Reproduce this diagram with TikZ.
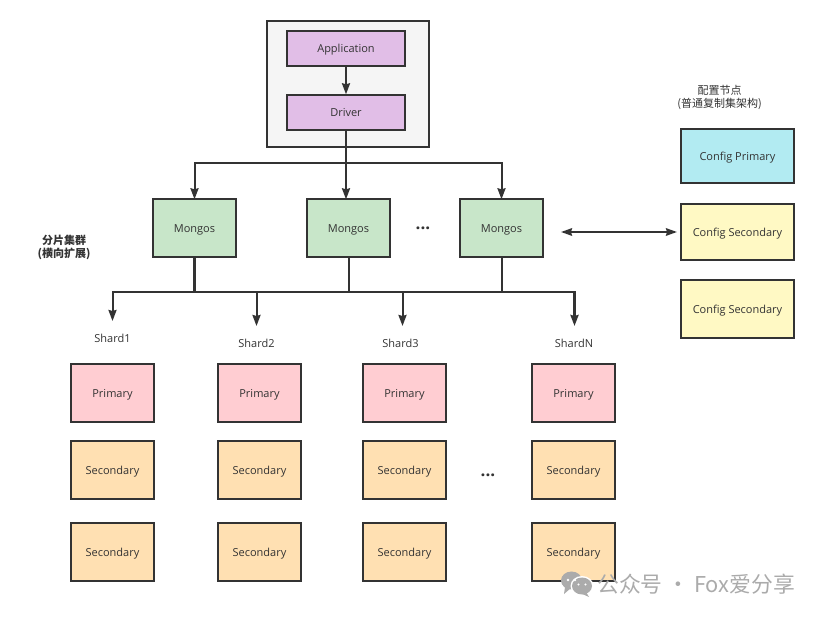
\documentclass[tikz,border=0pt]{standalone}
\usepackage{fontspec}
\setmainfont{Open Sans}
\newfontfamily\cjk{Noto Sans CJK SC}
\usetikzlibrary{arrows.meta}
\definecolor{ink}{HTML}{333333}
\definecolor{purplefill}{HTML}{E1BEE7}
\definecolor{greenfill}{HTML}{C8E6C9}
\definecolor{bluefill}{HTML}{B2EBF2}
\definecolor{yellowfill}{HTML}{FFF9C4}
\definecolor{pinkfill}{HTML}{FFCDD2}
\definecolor{orangefill}{HTML}{FFE0B2}
\definecolor{wm}{HTML}{ABABAB}
\tikzset{
  box/.style={draw=ink,line width=1.4pt,text=ink,font=\fontsize{11}{13}\selectfont,inner sep=0pt,align=center,text height=9.6pt,text depth=0pt},
  appbox/.style={box,fill=purplefill,minimum width=118pt,minimum height=35pt,text height=8.4pt},
  mongosbox/.style={box,fill=greenfill,minimum width=83pt,minimum height=58pt},
  cfgp/.style={box,fill=bluefill,minimum width=113pt,minimum height=54pt},
  cfgs/.style={box,fill=yellowfill,minimum width=113pt},
  prim/.style={box,fill=pinkfill,minimum width=83pt,minimum height=58pt},
  sec/.style={box,fill=orangefill,minimum width=83pt,minimum height=58pt},
  lbl/.style={text=ink,font=\fontsize{11}{13}\selectfont,inner sep=0pt,align=center},
  cjklbl/.style={text=ink,font=\cjk\fontsize{11}{13}\selectfont,inner sep=0pt,align=center},
  dots/.style={text=ink,font=\bfseries\fontsize{17}{17}\selectfont,inner sep=0pt},
  conn/.style={draw=ink,line width=2pt},
  arrow/.style={conn,-{Stealth[length=11pt,width=8pt,inset=1pt]}},
  darrow/.style={conn,{Stealth[length=11pt,width=7.5pt,inset=1pt]}-{Stealth[length=11pt,width=7.5pt,inset=1pt]}},
}
\begin{document}
\begin{tikzpicture}[x=1pt,y=-1pt]
\useasboundingbox (0,0) rectangle (820,617);
\fill[white] (0,0) rectangle (820,617);
% client group
\node[box,fill=black!4,minimum width=162pt,minimum height=126pt] (client) at (348,84) {};
\node[appbox] (app) at (346,48.5) {Application};
\node[appbox] (drv) at (346,112.5) {Driver};
% mongos
\node[mongosbox] (m1) at (194.5,228) {Mongos};
\node[mongosbox] (m2) at (348.5,228) {Mongos};
\node[mongosbox] (m3) at (501.5,228) {Mongos};
\node[dots] (d1) at (423,228) {...};
% config
\node[cjklbl] (cfgt) at (719.5,97.5) {配置节点\\(普通复制集架构)};
\node[cfgp] (c1) at (737.5,156) {Config Primary};
\node[cfgs,minimum height=56pt] (c2) at (737.5,232) {Config Secondary};
\node[cfgs,minimum height=58pt] (c3) at (737.5,309) {Config Secondary};
% left title
\node[cjklbl,font=\cjk\bfseries\fontsize{11}{13}\selectfont] (shardt) at (64,247) {分片集群\\(横向扩展)};
% shard labels
\node[lbl] (s1) at (112.5,338) {Shard1};
\node[lbl] (s2) at (256.5,343) {Shard2};
\node[lbl] (s3) at (400.5,343) {Shard3};
\node[lbl] (sn) at (574,343) {ShardN};
% shard columns
\node[prim] (p1) at (112.5,393) {Primary};
\node[sec] (a1) at (112.5,470) {Secondary};
\node[sec] (b1) at (112.5,552) {Secondary};
\node[prim] (p2) at (259.5,393) {Primary};
\node[sec] (a2) at (259.5,470) {Secondary};
\node[sec] (b2) at (259.5,552) {Secondary};
\node[prim] (p3) at (404.5,393) {Primary};
\node[sec] (a3) at (404.5,470) {Secondary};
\node[sec] (b3) at (404.5,552) {Secondary};
\node[prim] (pn) at (573.5,393) {Primary};
\node[sec] (an) at (573.5,470) {Secondary};
\node[sec] (bn) at (573.5,552) {Secondary};
\node[dots] (d2) at (488,475) {...};
% named free ends
\coordinate (top) at (346,163);
\coordinate (bus) at (194.5,292);
\coordinate (e1) at (112.5,321);
\coordinate (e2) at (256.5,326);
\coordinate (e3) at (402.5,326);
\coordinate (en) at (574.5,326);
\coordinate (l) at (561,232);
\coordinate (r) at (677,232);
% connectors
\draw[arrow] (app.south) -- (drv.north);
\draw[conn,line width=2.6pt] (drv.south) -- (top);
\draw[arrow] (top) -- (top -| m1.north) -- ([yshift=-1pt]m1.north);
\draw[arrow] (top) -- ([yshift=-1pt]top |- m2.north);
\draw[arrow] (top) -- (top -| m3.north) -- ([yshift=-1pt]m3.north);
\draw[conn,line width=2.6pt] (m1.south) -- (bus);
\draw[conn] (m2.south) -- (bus -| m2.south);
\draw[conn] (m3.south) -- (bus -| m3.south);
\draw[arrow] (bus) -- (bus -| e1) -- (e1);
\draw[arrow] (bus) -- (bus -| e2) -- (e2);
\draw[arrow] (bus) -- (bus -| e3) -- (e3);
\draw[arrow,line width=2.4pt] (bus) -- (bus -| en) -- (en);
\draw[darrow] (l) -- (r);
% watermark
\fill[wm] (571.5,580.5) ellipse (10.5pt and 9pt);
\fill[wm] (565,587) -- (564,594) -- (571,588) -- cycle;
\fill[white] (582,586) ellipse (11.5pt and 10pt);
\fill[wm] (582,586) ellipse (10pt and 8.5pt);
\fill[wm] (586,592) -- (589,597) -- (580,593) -- cycle;
\fill[white] (568,580) circle (1.4pt) (575,580) circle (1.4pt) (578.5,584.5) circle (1.2pt) (585.5,584.5) circle (1.2pt);
\node[text=wm,inner sep=0pt,anchor=west,font=\cjk\fontsize{21.8}{24}\selectfont] (wmk) at (597,584) {公众号 · Fox爱分享};
\end{tikzpicture}
\end{document}
